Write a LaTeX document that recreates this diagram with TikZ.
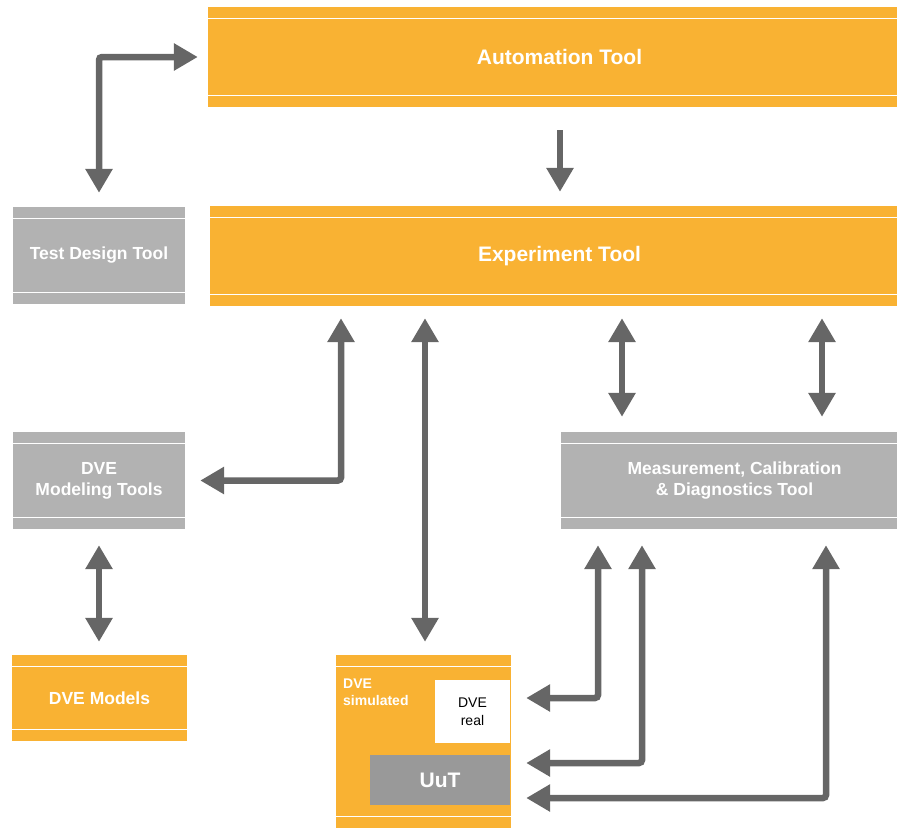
\documentclass[tikz,border=0pt]{standalone}
\usepackage{fontspec}
\setmainfont{Liberation Sans}
\usetikzlibrary{arrows.meta}
\definecolor{etorange}{HTML}{F9B233}
\definecolor{etgray}{HTML}{B2B2B2}
\definecolor{uutgray}{HTML}{999999}
\definecolor{arrgray}{HTML}{666666}
\tikzset{
  band/.style={draw=none, inner sep=0pt, text=white, align=center,
    font=\bfseries\fontsize{17.5}{21}\selectfont,
    path picture={
      \draw[white, line width=1.8pt] ([yshift=-11.5pt]path picture bounding box.north west) -- ([yshift=-11.5pt]path picture bounding box.north east);
      \draw[white, line width=1.8pt] ([yshift=11.5pt]path picture bounding box.south west) -- ([yshift=11.5pt]path picture bounding box.south east);
    }},
  orangebox/.style={band, fill=etorange},
  graybox/.style={band, fill=etgray},
  bigtext/.style={font=\bfseries\fontsize{21}{25}\selectfont},
  arr/.style={draw=arrgray, line width=6.5pt, rounded corners=3pt,
    -{Triangle[width=26pt,length=24pt]}},
  arrtwo/.style={arr, {Triangle[width=26pt,length=24pt]}-{Triangle[width=26pt,length=24pt]}},
}
\begin{document}
\begin{tikzpicture}[x=1pt,y=-1pt]
\useasboundingbox (0,0) rectangle (897,828);
% boxes
\node[orangebox, bigtext, minimum width=689pt, minimum height=100pt] (auto) at (552.5,57) {\hspace*{14pt}Automation Tool};
\node[orangebox, bigtext, minimum width=687pt, minimum height=100pt] (exp) at (553.5,256) {\hspace*{12pt}Experiment Tool};
\node[graybox, minimum width=172pt, minimum height=97pt] (tdt) at (99,255.5) {Test Design Tool};
\node[graybox, minimum width=172pt, minimum height=97pt] (dvemt) at (99,480.5) {DVE\\Modeling Tools};
\node[orangebox, minimum width=175pt, minimum height=86pt] (dvem) at (99.5,698) {DVE Models};
\node[graybox, minimum width=336pt, minimum height=97pt, font=\bfseries\fontsize{17.5}{21.5}\selectfont] (meas) at (729,480.5) {\hspace*{11pt}Measurement, Calibration\\\hspace*{11pt}\& Diagnostics Tool};
\node[orangebox, minimum width=175pt, minimum height=173pt] (dvesim) at (423.5,741.5) {};
\node[anchor=north west, inner sep=0pt, text=white, align=left, font=\bfseries\fontsize{14}{17}\selectfont] (simlabel) at (343,679) {DVE\\simulated};
\node[fill=white, inner sep=0pt, minimum width=75pt, minimum height=63pt, align=center, font=\fontsize{14}{18}\selectfont] (dvereal) at (472.5,711.5) {DVE\\real};
\node[fill=uutgray, inner sep=0pt, minimum width=140pt, minimum height=50pt, text=white, bigtext] (uut) at (440,780) {UuT};
% connectors
\draw[arrtwo, shorten <=14pt, shorten >=10pt] (tdt.north) |- (auto.west);
\draw[arr, shorten <=23pt, shorten >=14pt] (auto.south -| 560,0) -- (exp.north -| 560,0);
\draw[arrtwo, shorten <=12pt, shorten >=15pt] (exp.south -| 341,0) |- (dvemt.east);
\draw[arrtwo, shorten <=12pt, shorten >=13pt] (exp.south -| 425,0) -- (dvesim.north -| 425,0);
\draw[arrtwo, shorten <=12pt, shorten >=15pt] (exp.south -| 622,0) -- (meas.north -| 622,0);
\draw[arrtwo, shorten <=12pt, shorten >=15pt] (exp.south -| 822,0) -- (meas.north -| 822,0);
\draw[arrtwo, shorten <=16pt, shorten >=13pt] (dvemt.south) -- (dvem.north -| dvemt.south);
\draw[arrtwo, shorten <=16pt, shorten >=15pt] (meas.south -| 598,0) |- (dvesim.east |- 0,698);
\draw[arrtwo, shorten <=16pt, shorten >=15pt] (meas.south -| 642,0) |- (dvesim.east |- 0,763);
\draw[arrtwo, shorten <=16pt, shorten >=15pt] (meas.south -| 826,0) |- (dvesim.east |- 0,798);
\end{tikzpicture}
\end{document}
